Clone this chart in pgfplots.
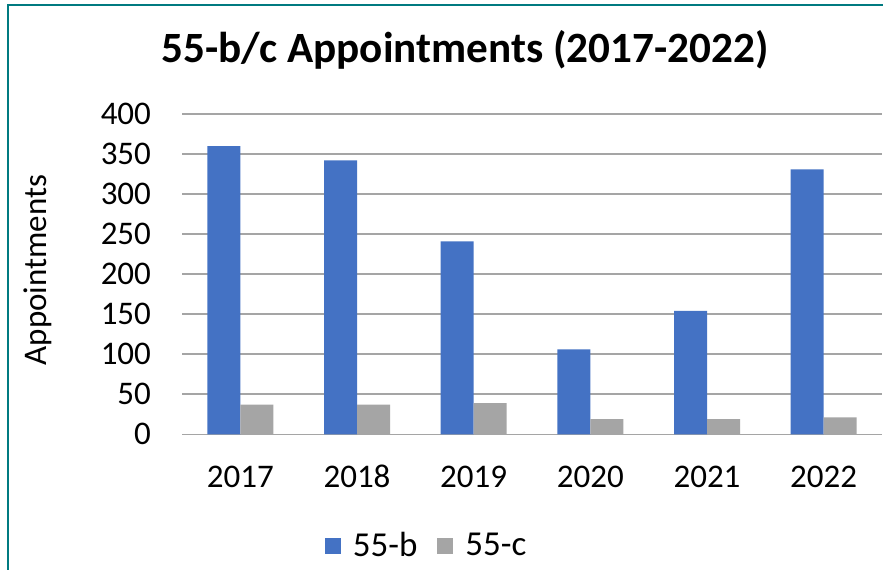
\documentclass[border=0pt]{standalone}
\usepackage{pgfplots}
\pgfplotsset{compat=1.18}
\usepackage{fontspec}
\setmainfont{Carlito}
\definecolor{cblue}{HTML}{4472C4}
\definecolor{cgray}{HTML}{A5A5A5}
\definecolor{gridc}{RGB}{165,165,165}
\definecolor{frame}{RGB}{0,122,128}
\begin{document}
\begin{tikzpicture}
\useasboundingbox (0,0) rectangle (441.5pt,284.5pt);
\fill[white] (0,0) rectangle (441.5pt,284.5pt);
\draw[frame, line width=1.1pt] (4pt,-20pt) -- (4pt,282pt) -- (470pt,282pt);
\node[font=\fontsize{21.6}{25}\selectfont\bfseries] at (232.5pt,259.5pt) {55-b/c Appointments (2017-2022)};
\begin{axis}[
  at={(91pt,67.35pt)}, anchor=south west,
  scale only axis, width=350pt, height=160.15pt,
  ybar=0pt, bar width=16.5pt,
  xmin=-0.5, xmax=5.5, ymin=0, ymax=400,
  xtick={0,1,2,3,4,5},
  xticklabels={2017,2018,2019,2020,2021,2022},
  ytick={0,50,100,150,200,250,300,350,400},
  major tick length=0pt,
  axis line style={draw=none},
  ymajorgrids, grid style={gridc, line width=0.8pt},
  /pgf/number format/assume math mode=true,
  tick label style={font=\fontsize{16.5}{18}\selectfont},
  yticklabel style={xshift=-12pt},
  xticklabel style={yshift=-12pt, text height=11pt, text depth=0pt, anchor=north},
  ylabel={Appointments},
  ylabel style={font=\fontsize{16.5}{18}\selectfont, at={(axis description cs:-0.206,0.513)}, anchor=center, rotate=0},
  legend style={at={(axis description cs:0.351,-0.349)}, anchor=center, draw=none, fill=none,
    legend columns=2, font=\fontsize{17.5}{19}\selectfont,
    /tikz/every even column/.append style={column sep=8pt}},
  legend image code/.code={\fill[#1] (0pt,-4pt) rectangle (8pt,4pt); \path (12pt,0pt);},
]
\addplot[fill=cblue, draw=none] coordinates {(0,360) (1,342) (2,241) (3,106) (4,154) (5,331)};
\addplot[fill=cgray, draw=none] coordinates {(0,37) (1,37) (2,39) (3,19) (4,19) (5,21)};
\legend{55-b,55-c}
\end{axis}
\end{tikzpicture}
\end{document}
